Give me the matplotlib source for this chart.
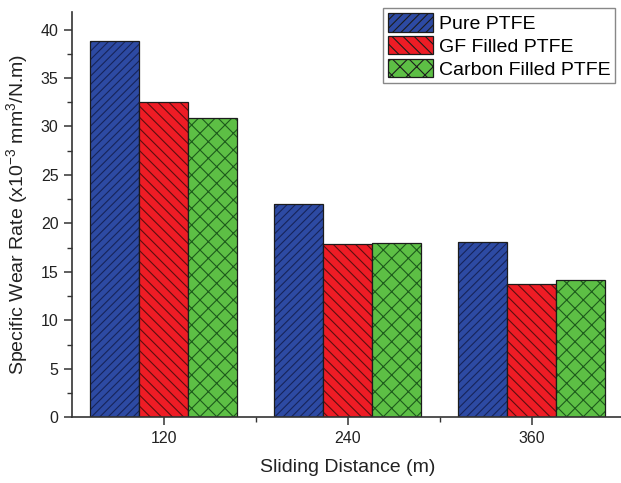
import numpy as np
import matplotlib.pyplot as plt
from matplotlib.ticker import MultipleLocator, FixedLocator

plt.rcParams['font.family'] = ['Liberation Sans', 'DejaVu Sans']
plt.rcParams['mathtext.fontset'] = 'custom'
plt.rcParams['mathtext.rm'] = 'Liberation Sans'
plt.rcParams['mathtext.it'] = 'Liberation Sans:italic'
plt.rcParams['hatch.linewidth'] = 0.8

distances = [120, 240, 360]
series = ['Pure PTFE', 'GF Filled PTFE', 'Carbon Filled PTFE']
pure = [38.8, 22.0, 18.1]
gf = [32.5, 17.9, 13.7]
carbon = [30.9, 18.0, 14.2]

colors = ['#2d4aa3', '#ee1c25', '#5dbf45']
hatch_colors = ['#17245a', '#5c0f10', '#1d5a1c']
hatches = ['////', '\\\\\\', 'xx']
width = 32

fig = plt.figure(figsize=(6.21, 4.83), dpi=100)
ax = fig.add_axes([0.1155, 0.136, 0.8886, 0.839])

x = np.array(distances)
handles = []
for i, (vals, name) in enumerate(zip([pure, gf, carbon], series)):
    pos = x + (i - 1) * width
    # hatched fill first, then a plain dark outline on top
    h = ax.bar(pos, vals, width, color=colors[i], hatch=hatches[i],
               edgecolor=hatch_colors[i], linewidth=0, label=name)
    ax.bar(pos, vals, width, fill=False, edgecolor='#1c1c1c', linewidth=0.9)
    handles.append(h)

ax.set_xlim(60, 420)
ax.set_ylim(0, 41.8)
ax.set_xticks(distances)
ax.xaxis.set_minor_locator(FixedLocator([180, 300]))
ax.yaxis.set_major_locator(MultipleLocator(5))
ax.yaxis.set_minor_locator(MultipleLocator(2.5))

for side in ['top', 'right']:
    ax.spines[side].set_visible(False)
for side in ['left', 'bottom']:
    ax.spines[side].set_linewidth(1.2)
    ax.spines[side].set_color('#333333')

ax.tick_params(which='major', direction='out', length=6, width=1.1,
               labelsize=11.5, colors='#333333', labelcolor='#222222')
ax.tick_params(which='minor', direction='out', length=3.5, width=1.0,
               colors='#333333')

ax.set_xlabel('Sliding Distance (m)', fontsize=14, color='#222222', labelpad=10)
ax.set_ylabel(r'Specific Wear Rate (x10$^{-3}$ mm$^{3}$/N.m)', fontsize=14,
              color='#222222', labelpad=8)

leg = ax.legend(handles=handles, loc='upper right', bbox_to_anchor=(0.985, 1.01),
                fontsize=14, fancybox=False, edgecolor='#888888', framealpha=1,
                handlelength=2.3, handleheight=1.1, labelspacing=0.15,
                handletextpad=0.3, borderpad=0.25, borderaxespad=0.0)
leg.get_frame().set_linewidth(1.0)
for patch in leg.get_patches():
    patch.set_linewidth(0.9)
    patch.set_edgecolor('#1c1c1c')

fig.savefig('out.png', dpi=100)
